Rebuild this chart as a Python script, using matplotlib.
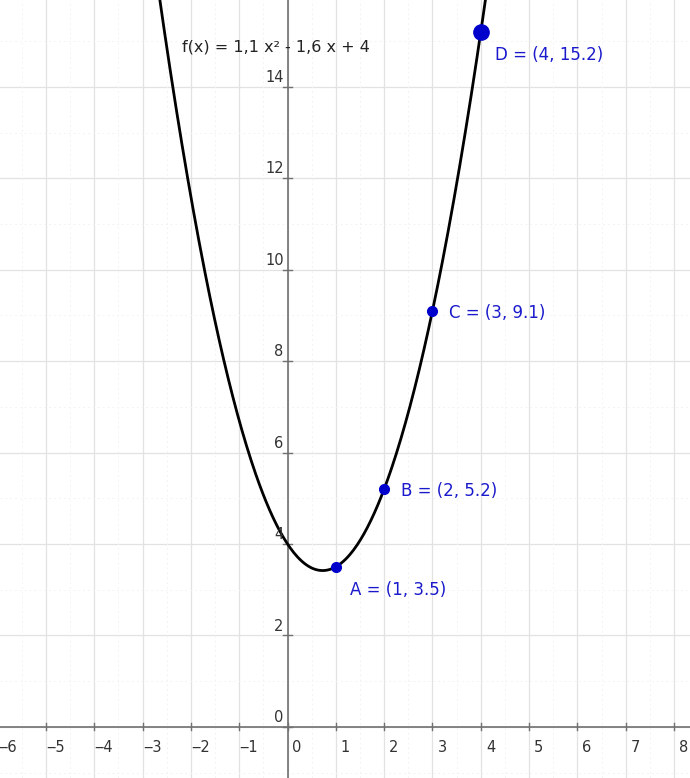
import numpy as np
import matplotlib.pyplot as plt

# f(x) = a x^2 + b x + c
a, b, c = 1.1, -1.6, 4
pt_names = ['A', 'B', 'C', 'D']
pt_x = [1, 2, 3, 4]
pt_y = [3.5, 5.2, 9.1, 15.2]
pt_sizes = [7, 7, 7, 11]
x_ticks = [-6, -5, -4, -3, -2, -1, 0, 1, 2, 3, 4, 5, 6, 7, 8]
y_ticks = [0, 2, 4, 6, 8, 10, 12, 14]
formula = 'f(x) = 1,1 x² - 1,6 x + 4'

blue = '#1a1acc'

fig = plt.figure(figsize=(6.9, 7.78), dpi=100)
ax = fig.add_axes([0, 0, 1, 1])
ax.set_xlim(-5.95, 8.33)
ax.set_ylim(-1.12, 15.9)

# grid
for gx in x_ticks:
    ax.axvline(gx, color='#e2e2e2', lw=0.9, zorder=0)
for gy in y_ticks:
    ax.axhline(gy, color='#e2e2e2', lw=0.9, zorder=0)
for gx in np.arange(-6, 9) + 0.5:
    ax.axvline(gx, color='#f3f3f3', lw=0.7, ls=(0, (2, 3)), zorder=0)
for gy in np.arange(-1, 16, 2) + 0.0:
    ax.axhline(gy, color='#f3f3f3', lw=0.7, ls=(0, (2, 3)), zorder=0)

# axes through origin
ax.axhline(0, color='#707070', lw=1.2, zorder=1)
ax.axvline(0, color='#707070', lw=1.2, zorder=1)
for s in ax.spines.values():
    s.set_visible(False)
ax.set_xticks([])
ax.set_yticks([])

# tick marks and labels
for tx in x_ticks:
    ax.plot([tx, tx], [-0.08, 0.08], color='#707070', lw=1, zorder=1)
    ax.text(tx + 0.2, -0.28, str(tx).replace('-', '‒'), fontsize=10.5, color='#333333',
            ha='center', va='top')
for ty in y_ticks:
    ax.plot([-0.1, 0.1], [ty, ty], color='#707070', lw=1, zorder=1)
    ax.text(-0.08, ty + 0.04, str(ty), fontsize=10.5, color='#333333',
            ha='right', va='bottom')

# curve
xs = np.linspace(-5.95, 8.33, 600)
ax.plot(xs, a * xs**2 + b * xs + c, color='black', lw=2, zorder=2)

# points
for n, px, py, ms in zip(pt_names, pt_x, pt_y, pt_sizes):
    ax.plot(px, py, 'o', color='#0000cc', ms=ms, zorder=3)
    lbl = f'{n} = ({px}, {py})'
    if n == 'D':
        ax.text(px + 0.3, py - 0.5, lbl, color=blue, fontsize=12, va='center')
    elif n == 'A':
        ax.text(px + 0.3, py - 0.5, lbl, color=blue, fontsize=12, va='center')
    else:
        ax.text(px + 0.35, py - 0.05, lbl, color=blue, fontsize=12, va='center')

ax.text(-2.18, 14.88, formula, fontsize=11.5, color='#222222', va='center')

plt.savefig('out.png')
